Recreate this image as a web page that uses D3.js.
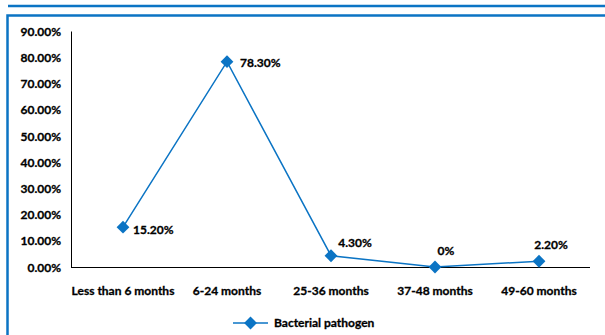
<!DOCTYPE html>
<html>
<head>
<meta charset="utf-8">
<script src="https://cdn.jsdelivr.net/npm/d3@7/dist/d3.min.js"></script>
<style>
  html, body { margin: 0; padding: 0; background: #fff; }
  svg { display: block; }
  text { font-family: Lato, "Open Sans", sans-serif; font-weight: 700; fill: #000;
         stroke: #000; stroke-width: 0.3px; }
</style>
</head>
<body>
<svg id="chart" width="605" height="335"></svg>
<script>
// Age groups and share of bacterial pathogens (%)
const categories = ["Less than 6 months", "6-24 months", "25-36 months", "37-48 months", "49-60 months"];
const values = [15.2, 78.3, 4.3, 0, 2.2];
const valueLabels = ["15.20%", "78.30%", "4.30%", "0%", "2.20%"];
const yTicks = [0, 10, 20, 30, 40, 50, 60, 70, 80, 90];
const seriesName = "Bacterial pathogen";

const blue = "#0B74C4";
const svg = d3.select("#chart");

// page rule and panel frame
svg.append("line").attr("x1", 8).attr("x2", 605).attr("y1", 6).attr("y2", 6)
  .attr("stroke", blue).attr("stroke-width", 2.5);
svg.append("rect").attr("x", 7.5).attr("y", 15.5).attr("width", 620).attr("height", 340)
  .attr("fill", "none").attr("stroke", blue).attr("stroke-width", 2.5);

const x0 = 71, x1 = 590;
const x = d3.scalePoint().domain(categories).range([123, 539]).padding(0);
const y = d3.scaleLinear().domain([0, 90]).range([267, 31]);

// y axis
const yAxis = svg.append("g").attr("transform", `translate(${x0},0)`)
  .call(d3.axisLeft(y).tickValues(yTicks).tickSize(0).tickPadding(10)
    .tickFormat(d => d.toFixed(2) + "%"));
yAxis.select(".domain").attr("stroke", "#000").attr("stroke-width", 1);
yAxis.selectAll("text").style("font-size", "12px").attr("dy", "0.35em");

// x axis line spanning the plot
svg.append("line").attr("x1", x0).attr("x2", x1).attr("y1", y(0) + 0.5).attr("y2", y(0) + 0.5)
  .attr("stroke", "#000").attr("stroke-width", 1.2);
svg.append("g").selectAll("text").data(categories).join("text")
  .attr("x", d => x(d)).attr("y", 295)
  .attr("text-anchor", "middle").style("font-size", "12px")
  .text(d => d);

// series line
const pts = categories.map((c, i) => [x(c), y(values[i])]);
svg.append("path").attr("d", d3.line()(pts))
  .attr("fill", "none").attr("stroke", blue).attr("stroke-width", 1.5);

const diamond = d3.symbol().type(d3.symbolSquare).size(82);
svg.append("g").selectAll("path").data(pts).join("path")
  .attr("d", diamond)
  .attr("transform", d => `translate(${d[0]},${d[1]}) rotate(45)`)
  .attr("fill", blue);

// data labels: beside the two large points, above the small ones
const labelAnchor = ["start", "start", "middle", "middle", "middle"];
const labelShift = [[10, 3], [13, 1.5], [24, -13], [11, -16], [12, -16]];
svg.append("g").selectAll("text").data(pts).join("text")
  .attr("x", (d, i) => d[0] + labelShift[i][0])
  .attr("y", (d, i) => d[1] + labelShift[i][1])
  .attr("dy", "0.35em")
  .attr("text-anchor", (d, i) => labelAnchor[i])
  .style("font-size", "12px")
  .text((d, i) => valueLabels[i]);

// legend
const lg = svg.append("g").attr("transform", "translate(233,323)");
lg.append("line").attr("x1", 0).attr("x2", 35).attr("stroke", blue).attr("stroke-width", 1.5);
lg.append("path").attr("d", diamond).attr("transform", "translate(17.5,0) rotate(45)").attr("fill", blue);
lg.append("text").attr("x", 41).attr("dy", "0.35em").style("font-size", "12px").text(seriesName);
</script>
</body>
</html>
